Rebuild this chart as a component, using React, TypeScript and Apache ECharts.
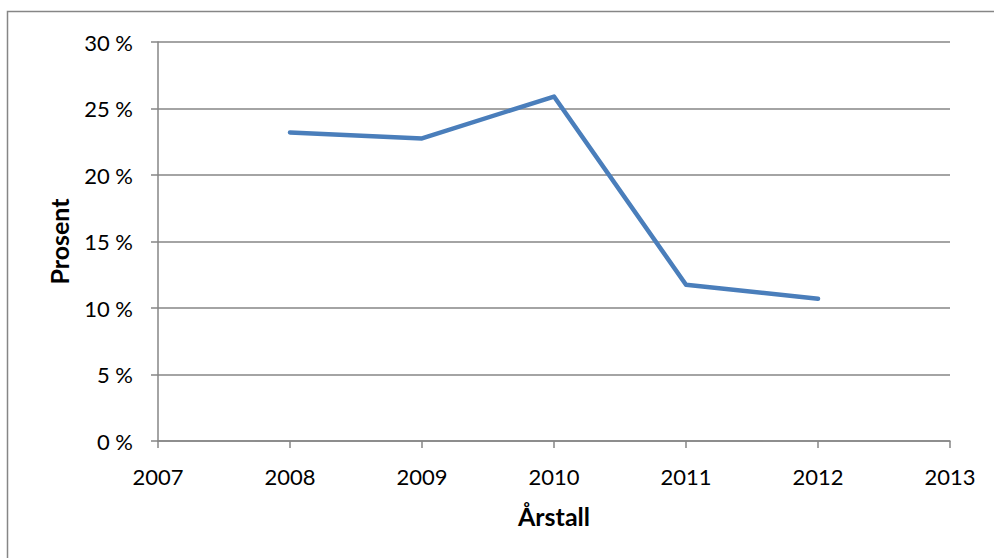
import React, { useEffect, useRef } from "react";
import * as echarts from "echarts";

const years = [2008, 2009, 2010, 2011, 2012];
const percent = [23.2, 22.75, 25.9, 11.75, 10.7];
const xTitle = "Årstall";
const yTitle = "Prosent";

export default function App() {
  const ref = useRef<HTMLDivElement>(null);
  useEffect(() => {
    const chart = echarts.init(ref.current!, null, { renderer: "svg" });
    const font = "Lato, 'Open Sans', sans-serif";
    chart.setOption({
      animation: false,
      backgroundColor: "#ffffff",
      graphic: [
        {
          type: "rect",
          shape: { x: 7.5, y: 11.5, width: 1100, height: 700 },
          style: { fill: "none", stroke: "#868686", lineWidth: 1.5 },
          silent: true,
        },
      ],
      grid: { left: 158, top: 42, width: 792, height: 399 },
      xAxis: {
        type: "value",
        min: 2007,
        max: 2013,
        interval: 1,
        name: xTitle,
        nameLocation: "middle",
        nameGap: 62,
        nameTextStyle: { fontFamily: font, fontSize: 25, fontWeight: "bold", color: "#000" },
        axisLine: { show: true, lineStyle: { color: "#868686", width: 1.5 } },
        axisTick: { show: true, length: 7, lineStyle: { color: "#868686", width: 1.5 } },
        axisLabel: { fontFamily: font, fontSize: 22, color: "#000", margin: 24, formatter: (v: number) => String(v) },
        splitLine: { show: false },
      },
      yAxis: {
        type: "value",
        min: 0,
        max: 30,
        interval: 5,
        name: yTitle,
        nameLocation: "middle",
        nameGap: 87,
        nameTextStyle: { fontFamily: font, fontSize: 25, fontWeight: "bold", color: "#000" },
        axisLine: { show: true, lineStyle: { color: "#868686", width: 1.5 } },
        axisTick: { show: true, length: 7, inside: false, lineStyle: { color: "#868686", width: 1.5 } },
        axisLabel: { fontFamily: font, fontSize: 22, color: "#000", margin: 25, formatter: (v: number) => v + " %" },
        splitLine: { show: true, lineStyle: { color: "#868686", width: 1.5 } },
      },
      series: [
        {
          type: "line",
          data: years.map((y, i) => [y, percent[i]]),
          symbol: "none",
          lineStyle: { color: "#4a7ebb", width: 4.5, cap: "round", join: "round" },
        },
      ],
    });
    return () => chart.dispose();
  }, []);
  return <div ref={ref} style={{ position: "fixed", left: 0, top: 0, width: 994, height: 558 }} />;
}
